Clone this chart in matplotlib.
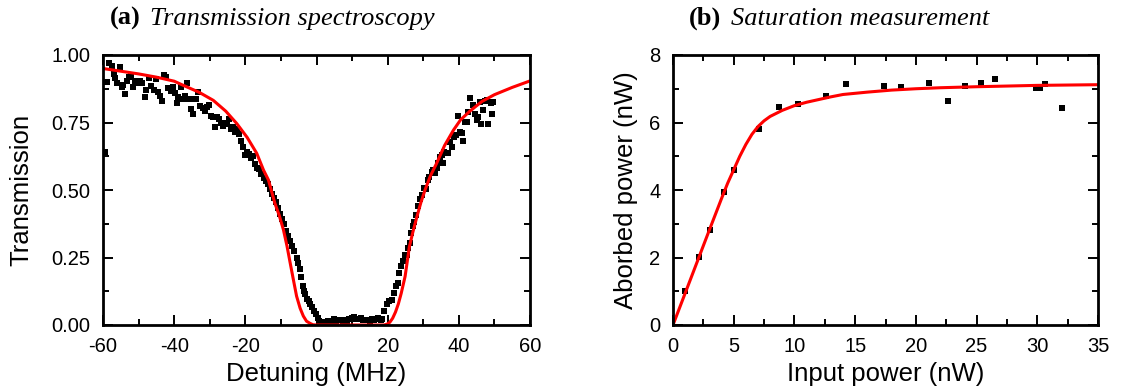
import numpy as np
import matplotlib
matplotlib.use("Agg")
import matplotlib.pyplot as plt
from matplotlib.ticker import MultipleLocator, FormatStrFormatter

plt.rcParams['font.family'] = 'Liberation Sans'
plt.rcParams['axes.unicode_minus'] = False

# (a) transmission spectroscopy: measured points
det_meas = [-59.3, -59.0, -58.3, -57.6, -57.0, -56.6, -56.0, -55.3, -54.8, -54.3,
            -53.8, -53.3, -52.8, -52.2, -51.6, -51.0, -50.3, -49.6, -49.0, -48.3,
            -47.8, -47.1, -46.5, -45.8, -45.1, -44.6, -44.0, -43.3, -42.8, -42.3,
            -41.6, -41.0, -40.4, -39.8, -39.3, -38.8, -38.1, -37.5, -37.0, -36.4,
            -35.8, -35.3, -34.8, -34.3, -33.8, -33.2, -32.6, -32.0, -31.3, -30.8,
            -30.2, -29.6, -29.0, -28.5, -28.0, -27.4, -26.8, -26.3, -25.8, -25.2,
            -24.6, -24.0, -23.5, -22.9, -22.4, -21.8, -21.2, -20.6, -20.2, -19.6,
            -19.0, -18.5, -17.9, -17.4, -16.8, -16.2, -15.6, -14.8, -14.2, -13.6,
            -13.0, -12.5, -11.9, -11.3, -10.8, -10.2, -9.7, -9.1, -8.5, -8.0,
            -7.4, -6.8, -6.2, -5.6, -5.2, -4.7, -4.3, -3.9, -3.5, -3.1,
            -2.6, -2.2, -1.7, -1.2, -0.7, -0.2, 0.3,
            0.8, 1.4, 2.0, 2.6, 3.2, 3.8, 4.4, 5.0, 5.6, 6.2,
            6.8, 7.4, 8.0, 8.6, 9.2, 9.9, 10.5, 11.1, 11.8, 12.4,
            13.0, 13.6, 14.3, 14.9, 15.5, 16.1, 16.7, 17.4, 18.0, 18.5,
            19.0, 19.7, 20.5, 21.1, 21.9, 22.3, 22.8, 23.3, 23.8, 24.4,
            24.9, 25.4, 25.8, 26.3, 26.6, 27.0, 27.5, 28.0, 28.4, 29.1,
            29.6, 30.2, 30.8, 31.4, 31.7, 32.4, 32.8, 33.3, 33.8, 34.2,
            34.7, 35.2, 35.5, 35.8, 36.4, 36.9, 37.5, 38.0, 38.7, 39.2,
            39.9, 40.3, 40.8, 41.1, 41.7, 42.2, 42.7, 43.2, 44.1, 44.6,
            45.0, 45.5, 46.0, 46.2, 46.7, 47.4, 47.8, 48.3, 49.0, 49.2, 49.7]
trans_meas = [0.64, 0.90, 0.97, 0.96, 0.93, 0.915, 0.895, 0.955, 0.88, 0.89,
              0.855, 0.905, 0.917, 0.927, 0.883, 0.905, 0.898, 0.902, 0.898, 0.845,
              0.87, 0.915, 0.886, 0.87, 0.91, 0.862, 0.85, 0.83, 0.927, 0.917,
              0.878, 0.868, 0.883, 0.858, 0.824, 0.845, 0.88, 0.837, 0.85, 0.898,
              0.837, 0.80, 0.78, 0.837, 0.837, 0.862, 0.812, 0.803, 0.794, 0.808,
              0.815, 0.775, 0.769, 0.732, 0.769, 0.763, 0.747, 0.738, 0.744, 0.75,
              0.763, 0.726, 0.734, 0.713, 0.726, 0.707, 0.682, 0.658, 0.63, 0.639,
              0.633, 0.62, 0.627, 0.598, 0.583, 0.577, 0.561, 0.546, 0.534, 0.524,
              0.503, 0.487, 0.47, 0.454, 0.435, 0.41, 0.392, 0.373, 0.349, 0.33,
              0.311, 0.293, 0.274, 0.25, 0.231, 0.206, 0.176, 0.145, 0.126, 0.114,
              0.095, 0.089, 0.077, 0.067, 0.052, 0.04, 0.025,
              0.015, 0.012, 0.010, 0.012, 0.013, 0.015, 0.012, 0.021, 0.016, 0.018,
              0.020, 0.015, 0.017, 0.014, 0.021, 0.027, 0.031, 0.023, 0.021, 0.025,
              0.018, 0.017, 0.017, 0.014, 0.021, 0.018, 0.023, 0.027, 0.019, 0.021,
              0.051, 0.076, 0.088, 0.094, 0.119, 0.144, 0.156, 0.193, 0.217, 0.236,
              0.26, 0.26, 0.285, 0.304, 0.34, 0.365, 0.383, 0.408, 0.439, 0.466,
              0.482, 0.507, 0.503, 0.537, 0.547, 0.568, 0.574, 0.562, 0.58, 0.599,
              0.623, 0.63, 0.599, 0.642, 0.636, 0.638, 0.679, 0.66, 0.697, 0.703,
              0.773, 0.715, 0.712, 0.682, 0.752, 0.752, 0.789, 0.839, 0.814, 0.783,
              0.759, 0.771, 0.826, 0.746, 0.798, 0.83, 0.832, 0.746, 0.823, 0.783, 0.826]

# (a) fitted curve
det_fit = [-60, -50, -45, -40, -37.5, -33, -29, -25.5, -22.4, -19.5, -16.8,
           -14.9, -13.5, -11.7, -10.5, -9.3, -8.3, -7.4, -6.5, -5.6, -4.6,
           -3.7, -2.8, -1.8, -1.0, 0, 10, 19.0, 19.8, 20.6, 21.4, 22.2,
           23.0, 23.8, 24.9, 26.1, 27.1, 28.2, 29.3, 30.5, 32.0, 33.8,
           36.0, 38.5, 40.5, 43.1, 46.5, 50, 55, 60]
trans_fit = [0.950, 0.930, 0.918, 0.903, 0.888, 0.862, 0.832, 0.792, 0.746, 0.695, 0.636,
             0.574, 0.537, 0.451, 0.407, 0.353, 0.293, 0.230, 0.168, 0.107, 0.062,
             0.033, 0.014, 0.006, 0.001, 0.0, 0.0, 0.0, 0.003, 0.010, 0.025, 0.048,
             0.078, 0.117, 0.180, 0.290, 0.345, 0.400, 0.452, 0.500, 0.552, 0.600,
             0.665, 0.722, 0.760, 0.792, 0.828, 0.853, 0.880, 0.904]

# (b) saturation measurement
p_in = [1.01, 2.17, 3.01, 4.22, 4.99, 7.10, 8.69, 10.33, 12.58, 14.23, 17.38,
        18.75, 21.11, 22.64, 24.04, 25.33, 26.53, 29.93, 30.26, 30.64, 32.07]
p_abs = [1.01, 2.01, 2.81, 3.95, 4.59, 5.82, 6.46, 6.54, 6.80, 7.14, 7.08,
         7.04, 7.18, 6.63, 7.08, 7.16, 7.30, 7.01, 7.03, 7.14, 6.44]

p_in_fit = [0, 1, 2, 3, 4, 4.5, 5, 5.5, 6, 6.5, 7, 7.5, 8, 9, 10, 11, 12, 13,
            14, 16, 18, 20, 22, 25, 30, 35]
p_abs_fit = [0, 0.94, 1.88, 2.82, 3.75, 4.2, 4.6, 5.0, 5.35, 5.65, 5.88, 6.05, 6.18,
             6.36, 6.50, 6.60, 6.68, 6.76, 6.83, 6.90, 6.96, 7.00, 7.03, 7.06, 7.10, 7.12]

W, H = 1122, 390
fig = plt.figure(figsize=(W / 100, H / 100), dpi=100)
ax1 = fig.add_axes([103 / W, 1 - 325 / H, 427 / W, 270 / H])
ax2 = fig.add_axes([673 / W, 1 - 325 / H, 425 / W, 270 / H])

for ax in (ax1, ax2):
    for s in ax.spines.values():
        s.set_linewidth(2.0)
    ax.tick_params(which='both', direction='in', top=True, right=True,
                   labelsize=14.5, pad=9, width=1.4)
    ax.tick_params(which='major', length=7)
    ax.tick_params(which='minor', length=4)

ax1.plot(det_meas, trans_meas, 's', color='black', ms=3.8, mew=0)
ax1.plot(det_fit, trans_fit, '-', color='#ff0000', lw=2.2)
ax1.set_xlim(-60, 60)
ax1.set_ylim(0, 1)
ax1.xaxis.set_major_locator(MultipleLocator(20))
ax1.xaxis.set_minor_locator(MultipleLocator(10))
ax1.yaxis.set_major_locator(MultipleLocator(0.25))
ax1.yaxis.set_minor_locator(MultipleLocator(0.125))
ax1.yaxis.set_major_formatter(FormatStrFormatter('%.2f'))
ax1.set_xlabel('Detuning (MHz)', fontsize=18.5, labelpad=4)
ax1.set_ylabel('Transmission', fontsize=18.5, labelpad=13)

ax2.plot(p_in, p_abs, 's', color='black', ms=3.8, mew=0)
ax2.plot(p_in_fit, p_abs_fit, '-', color='#ff0000', lw=2.2)
ax2.set_xlim(0, 35)
ax2.set_ylim(0, 8)
ax2.xaxis.set_major_locator(MultipleLocator(5))
ax2.xaxis.set_minor_locator(MultipleLocator(2.5))
ax2.yaxis.set_major_locator(MultipleLocator(2))
ax2.yaxis.set_minor_locator(MultipleLocator(1))
ax2.set_xlabel('Input power (nW)', fontsize=18.5, labelpad=4)
ax2.set_ylabel('Aborbed power (nW)', fontsize=18.5, labelpad=8)

# panel titles: bold label + italic text
ty = 1 - 25 / H
for lab, txt, xl, xt in [('(a)', 'Transmission spectroscopy', 141, 150),
                         ('(b)', 'Saturation measurement', 721, 731)]:
    fig.text(xl / W, ty, lab, ha='right', va='baseline', fontsize=19,
             fontweight='bold', family='Liberation Serif')
    fig.text(xt / W, ty, txt, ha='left', va='baseline', fontsize=19,
             style='italic', family='Liberation Serif')

fig.savefig('out.png', dpi=100)
